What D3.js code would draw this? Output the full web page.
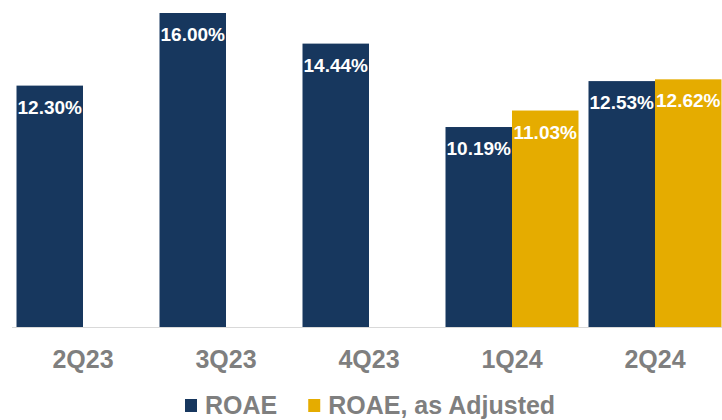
<!DOCTYPE html>
<html>
<head>
<meta charset="utf-8">
<script src="https://cdn.jsdelivr.net/npm/d3@7"></script>
<style>
  html, body { margin: 0; padding: 0; background: #ffffff; }
  svg { display: block; font-family: "Liberation Sans", Arial, sans-serif; }
</style>
</head>
<body>
<svg id="chart" width="722" height="420"></svg>
<script>
// Quarterly return on average equity
const quarters = ["2Q23", "3Q23", "4Q23", "1Q24", "2Q24"];
const seriesNames = ["ROAE", "ROAE, as Adjusted"];
const roae = [12.30, 16.00, 14.44, 10.19, 12.53];
const roaeAdjusted = [null, null, null, 11.03, 12.62];
const seriesColors = ["#17375E", "#E5AC00"];

const width = 722, height = 420;
const svg = d3.select("#chart");

const x0 = d3.scaleBand()
  .domain(quarters)
  .range([11.5, 726.5])
  .paddingInner(0.07)
  .paddingOuter(0.035);

const x1 = d3.scaleBand()
  .domain(seriesNames)
  .range([0, x0.bandwidth()])
  .padding(0);

const y = d3.scaleLinear().domain([0, 16]).range([327, 13]);

const color = d3.scaleOrdinal().domain(seriesNames).range(seriesColors);

const rows = quarters.map((q, i) => ({
  quarter: q,
  values: [
    { series: seriesNames[0], value: roae[i] },
    { series: seriesNames[1], value: roaeAdjusted[i] }
  ].filter(d => d.value != null)
}));

// Category axis along the baseline
const axis = svg.append("g")
  .attr("transform", `translate(0,${y(0)})`)
  .call(d3.axisBottom(x0).tickSize(0).tickPadding(23));
axis.select(".domain").attr("stroke", "#d9d9d9").attr("stroke-width", 1.2);
axis.selectAll("text")
  .attr("fill", "#7f7f7f")
  .attr("font-size", 25)
  .attr("font-weight", "bold")
  .attr("font-family", "Liberation Sans, Arial, sans-serif");

// Grouped bars
const groups = svg.append("g").selectAll("g")
  .data(rows)
  .join("g")
  .attr("transform", d => `translate(${x0(d.quarter)},0)`);

groups.selectAll("rect")
  .data(d => d.values)
  .join("rect")
  .attr("x", d => x1(d.series))
  .attr("y", d => y(d.value))
  .attr("width", x1.bandwidth())
  .attr("height", d => y(0) - y(d.value))
  .attr("fill", d => color(d.series));

// Value labels inside the top of each bar
groups.selectAll("text.value")
  .data(d => d.values)
  .join("text")
  .attr("class", "value")
  .attr("x", d => x1(d.series) + x1.bandwidth() / 2)
  .attr("y", d => y(d.value) + 28)
  .attr("text-anchor", "middle")
  .attr("fill", "#ffffff")
  .attr("font-size", 19)
  .attr("font-weight", "bold")
  .text(d => d.value.toFixed(2) + "%");

// Legend
const legend = svg.append("g").attr("transform", "translate(185,414)");
let lx = 0;
seriesNames.forEach((name, i) => {
  const item = legend.append("g").attr("transform", `translate(${lx},0)`);
  item.append("rect")
    .attr("x", 0).attr("y", -15)
    .attr("width", 12).attr("height", 13)
    .attr("fill", seriesColors[i]);
  const t = item.append("text")
    .attr("x", 20).attr("y", 0)
    .attr("fill", "#7f7f7f")
    .attr("font-size", 25)
    .attr("font-weight", "bold")
    .text(name);
  lx += 20 + t.node().getComputedTextLength() + 31;
});
</script>
</body>
</html>
